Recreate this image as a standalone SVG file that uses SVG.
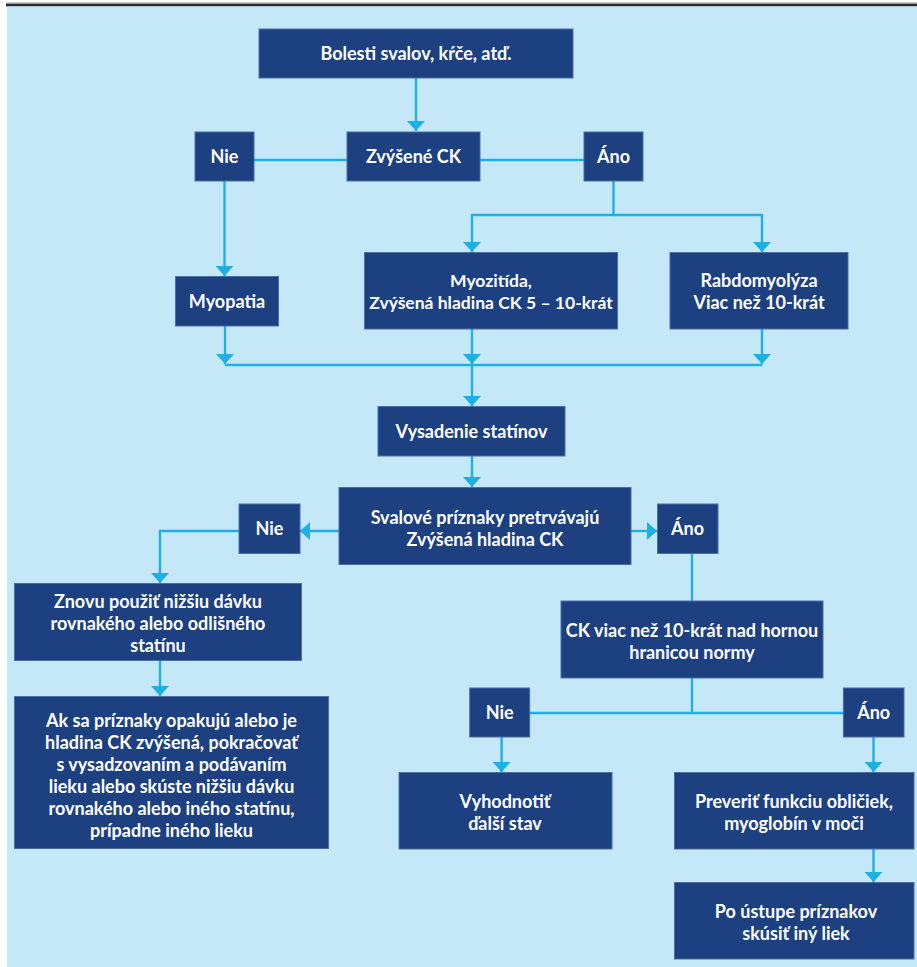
<svg xmlns="http://www.w3.org/2000/svg" width="917" height="967" viewBox="0 0 917 967">
<defs>
<style>
.bg{fill:#c5e8f8}
.box{fill:#1c4080;stroke:#4a6ea8;stroke-width:1}
.t{font-family:Lato,"Open Sans","Liberation Sans",sans-serif;font-weight:700;font-size:18px;fill:#ffffff;text-anchor:middle}
.s{font-size:17.5px}
.c{fill:none;stroke:#1fb0e3;stroke-width:2.4}
</style>
<marker id="ah" viewBox="0 0 10 18" refX="10" refY="9" markerWidth="10" markerHeight="18" markerUnits="userSpaceOnUse" orient="auto">
<path d="M0,0 L10,9 L0,18 z" fill="#1fb0e3"/>
</marker>
</defs>
<rect x="0" y="0" width="917" height="967" fill="#ffffff"/>
<rect x="6" y="2.5" width="911" height="1.5" fill="#9a9a9a"/>
<rect x="6" y="4" width="911" height="2.5" fill="#2b2b2b"/>
<rect class="bg" x="7" y="6.5" width="910" height="960.5"/>

<g id="connectors">
<path class="c" d="M416,78 V131" marker-end="url(#ah)"/>
<path class="c" d="M254,160 H347 M480,160 H584"/>
<path class="c" d="M224.5,181 V276" marker-end="url(#ah)"/>
<path class="c" d="M613.5,181 V215 H472 V252" marker-end="url(#ah)"/>
<path class="c" d="M613.5,215 H762 V252" marker-end="url(#ah)"/>
<path class="c" d="M225,326 V364" marker-end="url(#ah)"/>
<path class="c" d="M472,329 V364" marker-end="url(#ah)"/>
<path class="c" d="M762,329 V364" marker-end="url(#ah)"/>
<path class="c" d="M225,365 H762"/>
<path class="c" d="M472,365 V406" marker-end="url(#ah)"/>
<path class="c" d="M472,456 V487" marker-end="url(#ah)"/>
<path class="c" d="M339,531 H300" marker-end="url(#ah)"/>
<path class="c" d="M239,531 H160 V583" marker-end="url(#ah)"/>
<path class="c" d="M160,660 V696" marker-end="url(#ah)"/>
<path class="c" d="M631,531 H657" marker-end="url(#ah)"/>
<path class="c" d="M692,553 V601"/>
<path class="c" d="M692,678 V713 M529.7,713 H843.4"/>
<path class="c" d="M501.6,737 V772" marker-end="url(#ah)"/>
<path class="c" d="M873.5,737 V772" marker-end="url(#ah)"/>
<path class="c" d="M873.5,849 V882" marker-end="url(#ah)"/>
</g>

<g id="n_bolesti"><rect class="box" x="259" y="29" width="314" height="49"/><text class="t" x="416" y="60">Bolesti svalov, kŕče, atď.</text></g>
<g id="n_nie1"><rect class="box" x="195" y="132" width="59" height="49"/><text class="t" x="224.5" y="163">Nie</text></g>
<g id="n_ck"><rect class="box" x="347" y="132" width="133" height="49"/><text class="t" x="413.5" y="163">Zvýšené CK</text></g>
<g id="n_ano1"><rect class="box" x="584" y="132" width="59" height="49"/><text class="t" x="613.5" y="163">Áno</text></g>
<g id="n_myopatia"><rect class="box" x="175.5" y="276.5" width="103" height="49.5"/><text class="t" x="227" y="308">Myopatia</text></g>
<g id="n_myozitida"><rect class="box" x="364.5" y="252.5" width="253" height="76.5"/><text class="t s" x="491" y="287">Myozitída,</text><text class="t s" x="491" y="309">Zvýšená hladina CK 5 – 10-krát</text></g>
<g id="n_rabdo"><rect class="box" x="670" y="252.5" width="178" height="76.5"/><text class="t" x="759" y="287">Rabdomyolýza</text><text class="t" x="759" y="309">Viac než 10-krát</text></g>
<g id="n_vysadenie"><rect class="box" x="378" y="406.5" width="187" height="49.5"/><text class="t" x="471.5" y="438">Vysadenie statínov</text></g>
<g id="n_svalove"><rect class="box" x="339" y="487.5" width="292" height="77"/><text class="t" x="485" y="523.5">Svalové príznaky pretrvávajú</text><text class="t" x="485" y="545.5">Zvýšená hladina CK</text></g>
<g id="n_nie2"><rect class="box" x="239" y="504" width="61" height="49.5"/><text class="t" x="269.5" y="535">Nie</text></g>
<g id="n_ano2"><rect class="box" x="657.5" y="504" width="60.5" height="49.5"/><text class="t" x="687.5" y="535">Áno</text></g>
<g id="n_znovu"><rect class="box" x="14.5" y="583.5" width="287" height="77"/><text class="t" x="158" y="607.5">Znovu použiť nižšiu dávku</text><text class="t" x="158" y="629.5">rovnakého alebo odlišného</text><text class="t" x="158" y="651.5">statínu</text></g>
<g id="n_aksa"><rect class="box" x="14.5" y="696.5" width="314" height="152"/><text class="t" x="171.5" y="726.5">Ak sa príznaky opakujú alebo je</text><text class="t" x="171.5" y="748.5">hladina CK zvýšená, pokračovať</text><text class="t" x="171.5" y="770.5">s vysadzovaním a podávaním</text><text class="t" x="171.5" y="792.5">lieku alebo skúste nižšiu dávku</text><text class="t" x="171.5" y="814.5">rovnakého alebo iného statínu,</text><text class="t" x="171.5" y="836.5">prípadne iného lieku</text></g>
<g id="n_ckviac"><rect class="box" x="561" y="601" width="262" height="77"/><text class="t" x="692" y="636.5">CK viac než 10-krát nad hornou</text><text class="t" x="692" y="658.5">hranicou normy</text></g>
<g id="n_nie3"><rect class="box" x="469.7" y="688" width="60" height="49"/><text class="t" x="499.7" y="719">Nie</text></g>
<g id="n_ano3"><rect class="box" x="843.4" y="688" width="60.6" height="49"/><text class="t" x="873.7" y="719">Áno</text></g>
<g id="n_vyhodnotit"><rect class="box" x="399" y="772.5" width="213" height="76.5"/><text class="t" x="505" y="807.5">Vyhodnotiť</text><text class="t" x="505" y="829.5">ďalší stav</text></g>
<g id="n_preverit"><rect class="box" x="674.5" y="772.5" width="239.5" height="76.5"/><text class="t" x="794" y="807.5">Preveriť funkciu obličiek,</text><text class="t" x="794" y="829.5">myoglobín v moči</text></g>
<g id="n_poustupe"><rect class="box" x="674.5" y="882.5" width="239.5" height="76.5"/><text class="t" x="796" y="917.5">Po ústupe príznakov</text><text class="t" x="796" y="939.5">skúsiť iný liek</text></g>
</svg>
